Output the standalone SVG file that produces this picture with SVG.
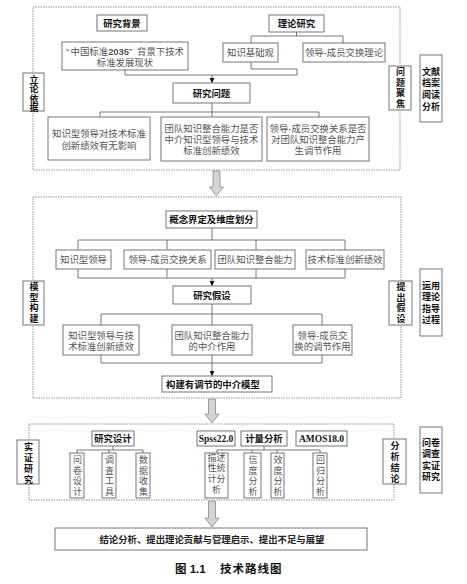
<svg xmlns="http://www.w3.org/2000/svg" width="467" height="584" viewBox="0 0 467 584">
<defs>
<style>
.frame{fill:none;stroke:#777;stroke-width:0.8;stroke-dasharray:1.5 1}
.box{fill:#fff;stroke:#666;stroke-width:0.9}
.ln{fill:none;stroke:#555;stroke-width:0.8}
.blk{fill:#d4d4d4;stroke:#888;stroke-width:0.8}
text{font-family:"Liberation Sans","Noto Sans CJK SC",sans-serif;font-size:9.4px;text-anchor:middle;dominant-baseline:central}
.n{fill:#555}
.b{fill:#111;font-weight:bold}
.v{font-size:9px}
.vt{font-size:9px;writing-mode:vertical-rl;text-orientation:upright}
.lat{font-family:"Liberation Serif","Noto Sans CJK SC",serif;font-weight:bold;font-size:9.5px;fill:#111}
.cap{font-size:11.5px;font-weight:bold;fill:#111;text-anchor:start}
</style>
<marker id="ah" viewBox="0 0 6 6" refX="6" refY="3" markerWidth="5" markerHeight="5" orient="auto" markerUnits="userSpaceOnUse">
<path d="M0,0 L6,3 L0,6 Z" fill="#111"/>
</marker>
</defs>
<rect width="467" height="584" fill="#fff"/>

<g id="frames">
<rect class="frame" x="33" y="7" width="367" height="163"/>
<rect class="frame" x="33" y="197" width="368" height="201"/>
<rect class="frame" x="29" y="424" width="365" height="76"/>
</g>

<g id="connectors">
<path class="ln" d="M296.5,32 V36 M251,43 V36 H343 V43"/>
<path class="ln" d="M251,62 V69 H297 V75 M125,70 V75 H297"/>
<path class="ln" d="M212,75 V83" marker-end="url(#ah)"/>
<path class="ln" d="M212,103 V117 M100,117 V112 H319 V117"/>
<path class="ln" d="M212,228 V240 M78,250 V240 H345 V250 M167,240 V250 M256,240 V250"/>
<path class="ln" d="M78,269 V278 H345 V269 M167,269 V278 M256,269 V278"/>
<path class="ln" d="M212,278 V286" marker-end="url(#ah)"/>
<path class="ln" d="M212,304 V325 M101,325 V314 H322 V325"/>
<path class="ln" d="M101,355 V363 H322 V355"/>
<path class="ln" d="M212,355 V376" marker-end="url(#ah)"/>
<path class="ln" d="M113,446 V450 M77,453 V450 H143 V453 M109,450 V453"/>
<path class="ln" d="M264,446 V450 M217,453 V450 H320 V453 M252,450 V453 M277,450 V453"/>
<path class="blk" d="M213,171 H220 V187 H223.5 L216.5,196 L209.5,187 H213 Z"/>
<path class="blk" d="M208.5,399 H215.5 V414 H219 L212,423 L205,414 H208.5 Z"/>
<path class="blk" d="M208.5,501 H215.5 V518 H219 L212,527 L205,518 H208.5 Z"/>
</g>

<g id="bg"><rect class="box" x="97" y="15" width="50" height="16"/><text class="b" x="122" y="23">研究背景</text></g>
<g id="theory"><rect class="box" x="269" y="15" width="55" height="17"/><text class="b" x="296.5" y="23.5">理论研究</text></g>
<g id="bg-status"><rect class="box" x="62" y="42" width="126" height="28"/>
<text class="n"><tspan x="125" y="50.5">“<tspan dx="1.5">中国标准</tspan><tspan font-weight="bold">2035</tspan>”<tspan dx="5">背景下技术</tspan></tspan><tspan x="125" y="61.5">标准发展现状</tspan></text></g>
<g id="kbv"><rect class="box" x="223" y="43" width="55" height="19"/><text class="n" x="250.5" y="52.5">知识基础观</text></g>
<g id="lmx"><rect class="box" x="303" y="43" width="82" height="19"/><text class="n" x="344" y="52.5">领导-成员交换理论</text></g>
<g id="question"><rect class="box" x="173" y="83" width="77" height="20"/><text class="b" x="211.5" y="93">研究问题</text></g>
<g id="q1"><rect class="box" x="48" y="117" width="102" height="43"/>
<text class="n"><tspan x="99" y="133.3">知识型领导对技术标准</tspan><tspan x="99" y="144.5">创新绩效有无影响</tspan></text></g>
<g id="q2"><rect class="box" x="161" y="117" width="101" height="44"/>
<text class="n"><tspan x="211.5" y="127.5">团队知识整合能力是否</tspan><tspan x="211.5" y="138.8">中介知识型领导与技术</tspan><tspan x="211.5" y="150.1">标准创新绩效</tspan></text></g>
<g id="q3"><rect class="box" x="267" y="117" width="102" height="44"/>
<text class="n"><tspan x="318" y="127.5">领导-成员交换关系是否</tspan><tspan x="318" y="138.8">对团队知识整合能力产</tspan><tspan x="318" y="150.1">生调节作用</tspan></text></g>
<g id="lbl-lilun"><rect class="box" x="23" y="73" width="21" height="38"/>
<text class="b vt" x="33.5" y="93.6" letter-spacing="0.3">立论依据</text></g>
<g id="lbl-wenti"><rect class="box" x="389" y="66" width="22" height="44"/>
<text class="b vt" x="400" y="88.5" letter-spacing="1.5">问题聚焦</text></g>
<g id="lbl-wenxian"><rect class="box" x="420" y="55" width="22" height="67"/>
<text class="b v"><tspan x="431" y="71.7">文献</tspan><tspan x="431" y="83.3">档案</tspan><tspan x="431" y="95">阅读</tspan><tspan x="431" y="106.7">分析</tspan></text></g>

<g id="concept"><rect class="box" x="166" y="211" width="91" height="17"/><text class="b" x="211.5" y="219.5">概念界定及维度划分</text></g>
<g id="c1"><rect class="box" x="56" y="250" width="55" height="19"/><text class="n" x="83.5" y="259.5">知识型领导</text></g>
<g id="c2"><rect class="box" x="124" y="250" width="87" height="19"/><text class="n" x="167.5" y="259.5">领导-成员交换关系</text></g>
<g id="c3"><rect class="box" x="215" y="250" width="80" height="19"/><text class="n" x="255" y="259.5">团队知识整合能力</text></g>
<g id="c4"><rect class="box" x="306" y="250" width="78" height="19"/><text class="n" x="345" y="259.5">技术标准创新绩效</text></g>
<g id="hypo"><rect class="box" x="173" y="286" width="78" height="18"/><text class="b" x="212" y="295">研究假设</text></g>
<g id="h1"><rect class="box" x="63" y="325" width="76" height="30"/>
<text class="n"><tspan x="101" y="334.5">知识型领导与技</tspan><tspan x="101" y="345.5">术标准创新绩效</tspan></text></g>
<g id="h2"><rect class="box" x="172" y="325" width="80" height="30"/>
<text class="n"><tspan x="212" y="334.5">团队知识整合能力</tspan><tspan x="212" y="345.5">的中介作用</tspan></text></g>
<g id="h3"><rect class="box" x="293" y="325" width="59" height="30"/>
<text class="n"><tspan x="322.5" y="334.5">领导-成员交</tspan><tspan x="322.5" y="345.5">换的调节作用</tspan></text></g>
<g id="model"><rect class="box" x="162" y="376" width="110" height="16"/><text class="b" x="166" y="384" style="text-anchor:start">构建有调节的中介模型</text></g>
<g id="lbl-moxing"><rect class="box" x="23" y="281" width="21" height="44"/>
<text class="b vt" x="33.5" y="303.5" letter-spacing="1.5">模型构建</text></g>
<g id="lbl-tichu"><rect class="box" x="389" y="281" width="23" height="44"/>
<text class="b vt" x="400.5" y="303.5" letter-spacing="1.5">提出假设</text></g>
<g id="lbl-yunyong"><rect class="box" x="420" y="269" width="22" height="67"/>
<text class="b v"><tspan x="431" y="286">运用</tspan><tspan x="431" y="297.3">理论</tspan><tspan x="431" y="308.6">指导</tspan><tspan x="431" y="319.9">过程</tspan></text></g>

<g id="design"><rect class="box" x="92" y="431" width="42" height="15"/><text class="b" x="113" y="438.5">研究设计</text></g>
<g id="d1"><rect class="box" x="70" y="453" width="14" height="45"/>
<text class="n vt" x="77" y="476.5" letter-spacing="1.5">问卷设计</text></g>
<g id="d2"><rect class="box" x="102" y="453" width="14" height="45"/>
<text class="n vt" x="109" y="476.5" letter-spacing="1.5">调查工具</text></g>
<g id="d3"><rect class="box" x="136" y="453" width="14" height="45"/>
<text class="n vt" x="143" y="476.5" letter-spacing="1.5">数据收集</text></g>
<g id="spss"><rect class="box" x="197" y="431" width="38" height="15"/><text class="lat" x="216" y="438.5">Spss22.0</text></g>
<g id="metric"><rect class="box" x="241" y="431" width="46" height="15"/><text class="b" x="264" y="438.5">计量分析</text></g>
<g id="amos"><rect class="box" x="296" y="431" width="51" height="15"/><text class="lat" x="321.5" y="438.5">AMOS18.0</text></g>
<g id="a1"><rect class="box" x="205" y="453" width="23" height="45"/>
<text class="n v"><tspan x="216.5" y="457.5">描述</tspan><tspan x="216.5" y="468.3">性统</tspan><tspan x="216.5" y="479.1">计分</tspan><tspan x="216.5" y="490">析</tspan></text></g>
<g id="a2"><rect class="box" x="244" y="453" width="17" height="45"/>
<text class="n vt" x="252.5" y="476.5" letter-spacing="1.5">信度分析</text></g>
<g id="a3"><rect class="box" x="271" y="453" width="13" height="45"/>
<text class="n vt" x="277.5" y="476.5" letter-spacing="1.5">效度分析</text></g>
<g id="a4"><rect class="box" x="313" y="453" width="14" height="45"/>
<text class="n vt" x="320" y="476.5" letter-spacing="1.5">回归分析</text></g>
<g id="lbl-shizheng"><rect class="box" x="17" y="440" width="22" height="44"/>
<text class="b vt" x="28" y="464.2" letter-spacing="2.3">实证研究</text></g>
<g id="lbl-fenxi"><rect class="box" x="383" y="439" width="23" height="45"/>
<text class="b vt" x="394.5" y="463.5" letter-spacing="2">分析结论</text></g>
<g id="lbl-wenjuan"><rect class="box" x="420" y="427" width="22" height="66"/>
<text class="b v"><tspan x="431" y="443">问卷</tspan><tspan x="431" y="454.3">调查</tspan><tspan x="431" y="465.6">实证</tspan><tspan x="431" y="476.9">研究</tspan></text></g>

<g id="conclusion"><rect class="box" x="55" y="528" width="312" height="22"/><text class="b" x="212" y="539" style="font-weight:600;fill:#222">结论分析、提出理论贡献与管理启示、提出不足与展望</text></g>

<g id="caption">
<text class="cap" x="175" y="569">图 1.1</text>
<text class="cap" x="220" y="569" letter-spacing="1">技术路线图</text>
</g>
</svg>
